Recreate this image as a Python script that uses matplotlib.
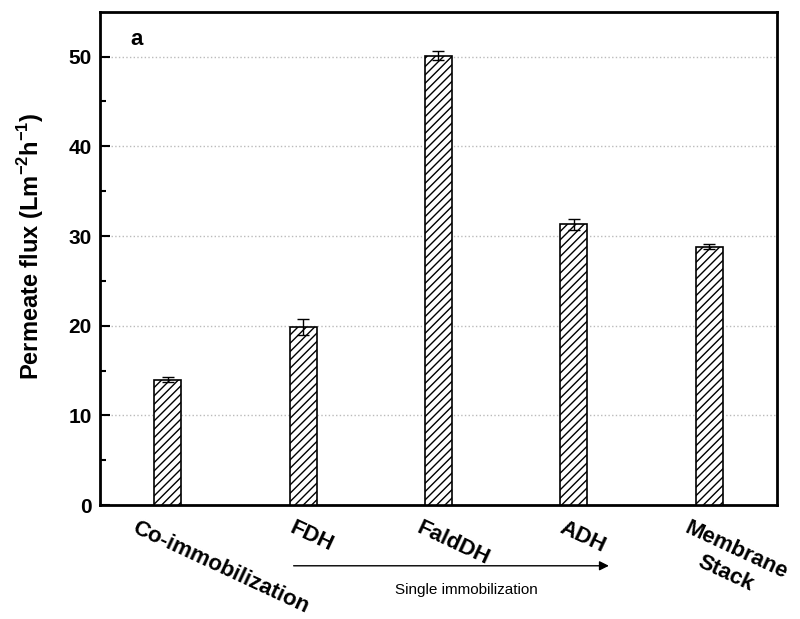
import matplotlib
matplotlib.use("Agg")
import matplotlib.pyplot as plt
import numpy as np

plt.rcParams['font.family'] = ['Liberation Sans', 'DejaVu Sans']
plt.rcParams['font.weight'] = 'bold'
plt.rcParams['mathtext.fontset'] = 'custom'
plt.rcParams['mathtext.rm'] = 'Liberation Sans:bold'
plt.rcParams['mathtext.bf'] = 'Liberation Sans:bold'
plt.rcParams['hatch.linewidth'] = 1.0

# data
categories = ["Co-immobilization", "FDH", "FaldDH", "ADH", "Membrane\nStack"]
flux = [14.0, 19.9, 50.1, 31.3, 28.8]
flux_err = [0.3, 0.9, 0.5, 0.6, 0.3]
label_shift = [-0.22, -0.06, -0.12, -0.06, -0.14]

x = np.arange(len(categories))

fig = plt.figure(figsize=(8, 6.19), dpi=100)
ax = fig.add_axes([0.125, 0.184, 0.846, 0.797])

ax.bar(x, flux, width=0.2, color='white', edgecolor='black',
       hatch='////', linewidth=1.2, zorder=3)
ax.errorbar(x, flux, yerr=flux_err, fmt='none', ecolor='black',
            elinewidth=1.0, capsize=4, capthick=1.0, zorder=4)

ax.set_xlim(-0.5, 4.5)
ax.set_ylim(0, 55)
ax.set_yticks([0, 10, 20, 30, 40, 50])
ax.set_yticks([5, 15, 25, 35, 45], minor=True)
ax.yaxis.grid(True, which='major', linestyle=':', color='#bbbbbb', linewidth=1.0)
ax.set_axisbelow(True)

ax.tick_params(axis='y', which='major', direction='in', length=7, width=1.5,
               labelsize=15, pad=6)
ax.tick_params(axis='y', which='minor', direction='in', length=4, width=1.5)
ax.set_xticks(x)
ax.set_xticklabels([])
ax.tick_params(axis='x', direction='in', length=4, width=1.2)

for s in ax.spines.values():
    s.set_linewidth(2.0)

for i, lab in enumerate(categories):
    ax.text(x[i] + label_shift[i], -0.025, lab, transform=ax.get_xaxis_transform(),
            rotation=-25, rotation_mode='anchor', ha='left', va='top',
            multialignment='center', fontsize=16, fontweight='bold',
            linespacing=1.3)

ax.annotate('', xy=(3.28, -0.123), xytext=(0.91, -0.123),
            xycoords=('data', 'axes fraction'), textcoords=('data', 'axes fraction'),
            arrowprops=dict(arrowstyle='-|>', color='black', lw=1.0,
                            mutation_scale=14), annotation_clip=False)
ax.text(2.21, -0.172, 'Single immobilization', transform=ax.get_xaxis_transform(),
        ha='center', va='center', fontsize=11, fontweight='normal')

ax.set_ylabel('Permeate flux (Lm$^{-2}$h$^{-1}$)', fontsize=17, fontweight='bold')
ax.yaxis.set_label_coords(-0.08, 0.525)
ax.text(0.045, 0.965, 'a', transform=ax.transAxes, fontsize=16,
        fontweight='bold', va='top')

fig.savefig('out.png', dpi=100)
